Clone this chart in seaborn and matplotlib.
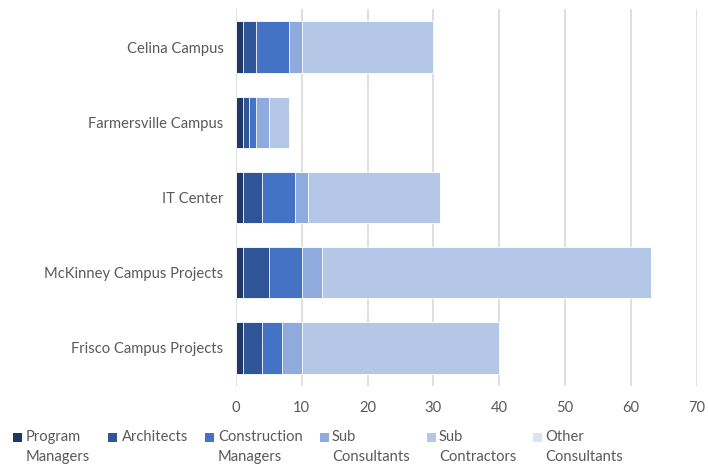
import matplotlib
matplotlib.use("Agg")
import matplotlib.pyplot as plt
import seaborn as sns
import numpy as np
import pandas as pd
from matplotlib.patches import Rectangle

categories = ["Celina Campus", "Farmersville Campus", "IT Center",
              "McKinney Campus Projects", "Frisco Campus Projects"]
series_names = ["Program\nManagers", "Architects", "Construction\nManagers",
                "Sub\nConsultants", "Sub\nContractors", "Other\nConsultants"]
program_managers = [1, 1, 1, 1, 1]
architects = [2, 1, 3, 4, 3]
construction_managers = [5, 1, 5, 5, 3]
sub_consultants = [2, 2, 2, 3, 3]
sub_contractors = [20, 3, 20, 50, 30]
other_consultants = [0, 0, 0, 0, 0]
x_ticks = [0, 10, 20, 30, 40, 50, 60, 70]

colors = ["#203864", "#2F5597", "#4472C4", "#8FAADC", "#B4C7E7", "#DAE3F3"]

sns.set_theme(style="white")
plt.rcParams["font.family"] = ["Lato", "DejaVu Sans"]
text_color = "#595959"
fs = 10.6

values = [program_managers, architects, construction_managers,
          sub_consultants, sub_contractors, other_consultants]
cum = np.cumsum(np.array(values, dtype=float), axis=0)

fig = plt.figure(figsize=(7.08, 4.66), dpi=100)
W, H = 708, 466
ax = fig.add_axes([236 / W, 1 - 385.6 / H, (696.7 - 236) / W, (385.6 - 9.4) / H])

for i in range(len(values) - 1, -1, -1):
    df = pd.DataFrame({"category": categories, "value": cum[i]})
    sns.barplot(data=df, x="value", y="category", orient="h", color=colors[i],
                width=0.68, edgecolor="white", linewidth=0.6, ax=ax,
                saturation=1)

ax.set_xlim(0, 70)
ax.set_ylim(4.5, -0.5)
ax.set_xticks(x_ticks)
ax.set_xticklabels([str(t) for t in x_ticks])
ax.set_xlabel("")
ax.set_ylabel("")
ax.grid(axis="x", color="#D9D9D9", linewidth=1.2)
ax.set_axisbelow(True)
for s in ax.spines.values():
    s.set_visible(False)
ax.tick_params(axis="both", length=0, labelsize=fs, colors=text_color)
ax.tick_params(axis="x", pad=11)
ax.tick_params(axis="y", pad=9)

# legend, drawn manually to follow the reference layout
marker_x = [12.7, 108, 205, 320, 427, 533]
text_x = [26, 122, 218, 332, 439, 545]
for i, name in enumerate(series_names):
    fig.add_artist(Rectangle((marker_x[i] / W, 1 - 442 / H), 9 / W, 9 / H,
                             transform=fig.transFigure, facecolor=colors[i],
                             edgecolor="none"))
    for j, line in enumerate(name.split("\n")):
        fig.text(text_x[i] / W, 1 - (441 + 20 * j) / H, line, ha="left",
                 va="baseline", fontsize=fs, color=text_color)

fig.savefig("out.png", dpi=100)
